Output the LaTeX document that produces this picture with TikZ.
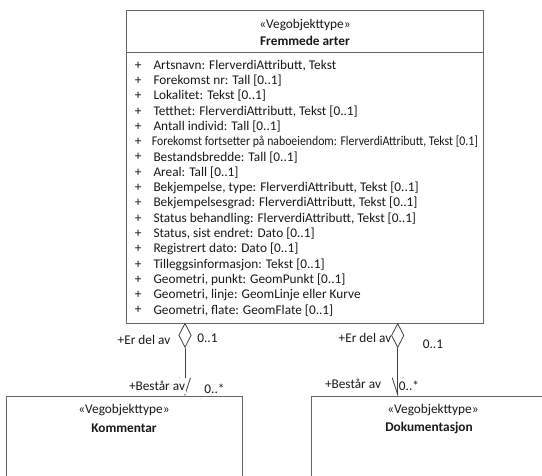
\documentclass[tikz,border=0pt]{standalone}
\usepackage{fontspec}
\setmainfont{Carlito}
\usetikzlibrary{shapes.geometric,arrows.meta}
\begin{document}
\begin{tikzpicture}[x=1pt,y=-1pt,
  txt/.style={inner sep=0pt, text=black!90, font=\fontsize{13.3}{15}\selectfont},
  box/.style={draw=black!60, line width=1pt, fill=white, inner sep=0pt},
  attr/.style={txt, anchor=west},
  lbl/.style={txt},
  cover/.style={txt, fill=white, inner xsep=1pt, inner ysep=3.5pt},
  agg/.style={diamond, draw=black!75, line width=0.8pt, fill=white, minimum width=12.5pt, minimum height=24pt, inner sep=0pt},
  assoc/.style={draw=black!75, line width=0.8pt, -{Straight Barb[length=17pt,width=11pt]}}
]
\useasboundingbox (0,0) rectangle (542,476);
% main class
\node[box, minimum width=357pt, minimum height=313pt, anchor=north west] (main) at (126,10) {};
\coordinate (hsep) at (0,53);
\draw[black!60, line width=1pt] (main.west |- hsep) -- (main.east |- hsep);
\node[txt] (mainst) at (305,25) {«Vegobjekttype»};
\node[txt, font=\fontsize{13.3}{15}\selectfont\bfseries] (mainnm) at (305,40.5) {Fremmede arter};
\foreach [count=\i from 0] \t in {
  {Artsnavn: FlerverdiAttributt, Tekst},
  {Forekomst nr: Tall [0..1]},
  {Lokalitet: Tekst [0..1]},
  {Tetthet: FlerverdiAttributt, Tekst [0..1]},
  {Antall individ: Tall [0..1]},
  {},
  {Bestandsbredde: Tall [0..1]},
  {Areal: Tall [0..1]},
  {Bekjempelse, type: FlerverdiAttributt, Tekst [0..1]},
  {Bekjempelsesgrad: FlerverdiAttributt, Tekst [0..1]},
  {Status behandling: FlerverdiAttributt, Tekst [0..1]},
  {Status, sist endret: Dato [0..1]},
  {Registrert dato: Dato [0..1]},
  {Tilleggsinformasjon: Tekst [0..1]},
  {Geometri, punkt: GeomPunkt [0..1]},
  {Geometri, linje: GeomLinje eller Kurve},
  {Geometri, flate: GeomFlate [0..1]}} {
  \node[txt] (p\i) at (138.3,{65.5+15.3*\i}) {+};
  \node[attr] (a\i) at (153.3,{65.5+15.3*\i}) {\t};
}
\node[attr] (a5b) at (151.7,{65.5+15.3*5}) {\resizebox{326pt}{\height}{Forekomst fortsetter på naboeiendom: FlerverdiAttributt, Tekst [0.1]}};
% bottom classes
\node[box, minimum width=236pt, minimum height=120pt, anchor=north west] (kom) at (6,396) {};
\node[txt] (komst) at (124,410.5) {«Vegobjekttype»};
\node[txt, font=\fontsize{13.3}{15}\selectfont\bfseries] (komnm) at (124,428) {Kommentar};
\node[box, minimum width=236pt, minimum height=120pt, anchor=north west] (dok) at (311,396) {};
\node[txt] (dokst) at (433,410.5) {«Vegobjekttype»};
\node[txt, font=\fontsize{13.3}{15}\selectfont\bfseries] (doknm) at (429,428) {Dokumentasjon};
% aggregations
\node[agg] (dL) at (185,335.3) {};
\node[agg] (dR) at (397.7,335.5) {};
\draw[assoc] (dL.south) -- (dL.south |- kom.north);
\draw[assoc] (dR.south) -- (dR.south |- dok.north);
% labels
\node[lbl] (lEr) at (144,340) {+Er del av};
\node[lbl] (lE1) at (207.5,338) {0..1};
\node[cover] (lBe) at (157,386) {+Består av};
\node[lbl] (lBs) at (214.5,389) {0..*};
\node[lbl] (rEr) at (365,338) {+Er del av};
\node[lbl] (rE1) at (433,344.6) {0..1};
\node[lbl] (rBe) at (353,384) {+Består av};
\node[cover] (rBs) at (409,386) {0..*};
\end{tikzpicture}
\end{document}
